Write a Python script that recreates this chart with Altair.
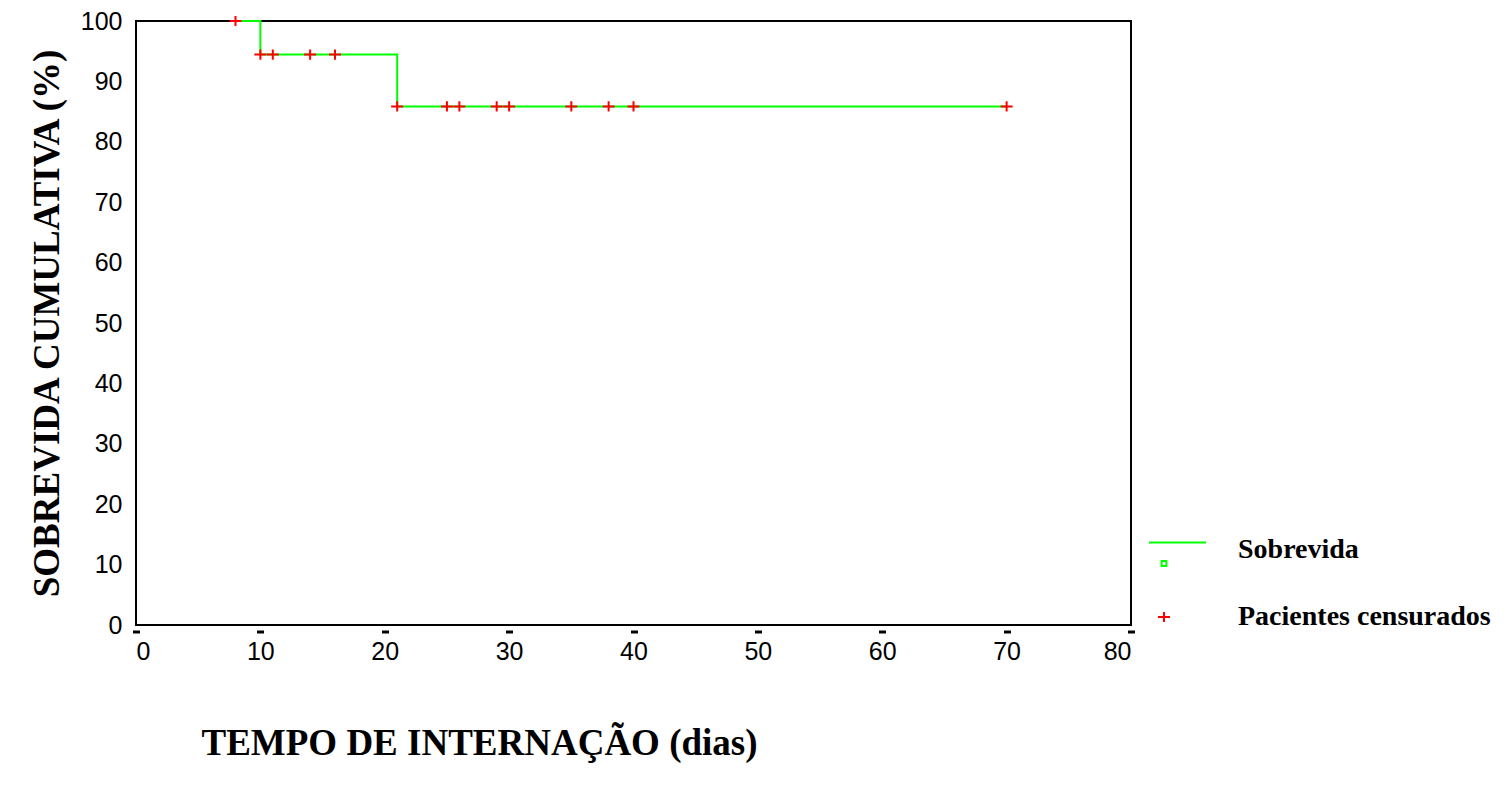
import altair as alt
import pandas as pd

# Kaplan-Meier steps (tempo em dias, sobrevida %)
step_dias = [8, 10, 21, 70]
step_surv = [100.0, 94.44, 85.86, 85.86]

# Pacientes censurados
cens_dias = [8, 10, 11, 14, 16, 21, 25, 26, 29, 30, 35, 38, 40, 70]
cens_surv = [100.0, 94.44, 94.44, 94.44, 94.44,
             85.86, 85.86, 85.86, 85.86, 85.86, 85.86, 85.86, 85.86, 85.86]

series = ["Sobrevida", "Pacientes censurados"]
colors = ["#00ff00", "#ff0000"]
x_ticks = [0, 10, 20, 30, 40, 50, 60, 70, 80]
y_ticks = [0, 10, 20, 30, 40, 50, 60, 70, 80, 90, 100]

line_symbol = "M-2.5,-1.25H7M-0.4,1.85H0.4V2.65H-0.4Z"
plus_symbol = "M-1,0H1M0,-0.85V0.85"

steps = pd.DataFrame({"dias": step_dias, "surv": step_surv, "serie": series[0]})
cens = pd.DataFrame({"dias": cens_dias, "surv": cens_surv, "serie": series[1]})

x_enc = alt.X(
    "dias:Q",
    scale=alt.Scale(domain=[0, 80], nice=False, zero=True),
    axis=alt.Axis(
        values=x_ticks, domain=False, grid=False, offset=5,
        tickSize=3, tickWidth=7, tickColor="black",
        labelPadding=6, labelFont="Liberation Sans", labelFontSize=25,
        labelColor="black",
        title="TEMPO DE INTERNAÇÃO (dias)",
        titleFont="Liberation Serif", titleFontWeight="bold", titleFontSize=37,
        titleColor="black", titleX=343, titleY=124, titleAlign="center",
        titleBaseline="alphabetic",
    ),
)
y_enc = alt.Y(
    "surv:Q",
    scale=alt.Scale(domain=[0, 100], nice=False, zero=True),
    axis=alt.Axis(
        values=y_ticks, domain=False, grid=False, ticks=False,
        labelPadding=14, labelFont="Liberation Sans", labelFontSize=25,
        labelColor="black",
        title="SOBREVIDA CUMULATIVA (%)",
        titleFont="Liberation Serif", titleFontWeight="bold", titleFontSize=37,
        titleColor="black", titlePadding=14,
    ),
)

leg = alt.Legend(
    title=None, orient="none", legendX=1014, legendY=515,
    labelFont="Liberation Serif", labelFontWeight="bold", labelFontSize=28,
    labelColor="black", labelOffset=60, labelLimit=400, rowPadding=33, padding=0,
    symbolSize=144, symbolStrokeWidth=2,
)

line = alt.Chart(steps).mark_line(
    interpolate="step-after", color="#00ff00", strokeWidth=2
).encode(x=x_enc, y=y_enc)

points = alt.Chart(cens).mark_point(
    filled=False, strokeWidth=2, size=144, opacity=1
).encode(
    x=x_enc,
    y=y_enc,
    color=alt.Color("serie:N", scale=alt.Scale(domain=series, range=colors), legend=leg),
    shape=alt.Shape("serie:N", scale=alt.Scale(domain=series, range=[line_symbol, plus_symbol]), legend=leg),
)

chart = (
    alt.layer(line, points)
    .properties(
        width=995, height=604,
        autosize=alt.AutoSizeParams(type="none"),
        padding={"left": 128, "top": 13, "right": 368, "bottom": 152},
        background="white",
    )
    .configure_view(stroke="black", strokeWidth=2)
)

chart.save("out.html", embed_options={"renderer": "svg", "actions": False})
